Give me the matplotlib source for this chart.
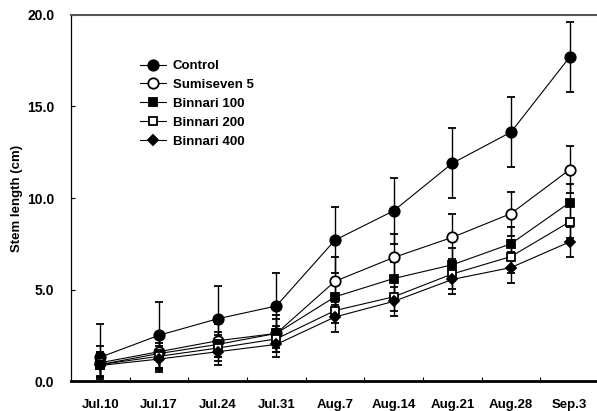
import matplotlib
matplotlib.use('Agg')
from matplotlib import pyplot as plt

dates = ['Jul.10', 'Jul.17', 'Jul.24', 'Jul.31', 'Aug.7', 'Aug.14', 'Aug.21', 'Aug.28', 'Sep.3']

control = [1.3, 2.5, 3.4, 4.1, 7.7, 9.3, 11.9, 13.6, 17.7]
control_err = [1.8, 1.8, 1.8, 1.8, 1.8, 1.8, 1.9, 1.9, 1.9]
sumiseven = [1.0, 1.6, 2.2, 2.6, 5.45, 6.75, 7.85, 9.15, 11.55]
sumiseven_err = [0.9, 1.0, 0.9, 1.0, 1.3, 1.3, 1.3, 1.2, 1.3]
binnari100 = [0.9, 1.5, 2.0, 2.6, 4.6, 5.6, 6.35, 7.5, 9.75]
binnari100_err = [0.7, 0.8, 0.7, 0.8, 0.8, 0.9, 0.9, 0.9, 1.0]
binnari200 = [0.9, 1.35, 1.8, 2.3, 3.85, 4.6, 5.85, 6.8, 8.7]
binnari200_err = [0.7, 0.7, 0.7, 0.7, 0.7, 0.8, 0.8, 0.9, 0.9]
binnari400 = [0.85, 1.2, 1.6, 2.0, 3.5, 4.35, 5.55, 6.2, 7.6]
binnari400_err = [0.6, 0.7, 0.7, 0.7, 0.8, 0.8, 0.8, 0.85, 0.8]

series = [
    ('Control', control, control_err, 'o', 'black', 7.5),
    ('Sumiseven 5', sumiseven, sumiseven_err, 'o', 'white', 7.5),
    ('Binnari 100', binnari100, binnari100_err, 's', 'black', 6),
    ('Binnari 200', binnari200, binnari200_err, 's', 'white', 6),
    ('Binnari 400', binnari400, binnari400_err, 'D', 'black', 5),
]

plt.rcParams['font.family'] = ['Liberation Sans', 'DejaVu Sans']
plt.rcParams['font.weight'] = 'bold'

fig = plt.figure(figsize=(5.97, 4.11), dpi=100)
ax = fig.add_axes([71 / 597, 1 - 381 / 411, 528 / 597, 366 / 411])

x = list(range(len(dates)))
lines = []
for name, vals, errs, mk, fc, ms in series:
    eb = ax.errorbar(x, vals, yerr=errs, color='black', lw=0.8, elinewidth=1.0,
                     capsize=3, capthick=1.0, marker=mk, markersize=ms,
                     markerfacecolor=fc, markeredgecolor='black', markeredgewidth=1.3)
    lines.append(eb[0])

ax.set_xlim(-0.5, len(dates) - 0.5)
ax.set_ylim(0, 20)
ax.set_yticks([0, 5, 10, 15, 20])
ax.set_yticklabels(['%.1f' % v for v in [0, 5, 10, 15, 20]], fontsize=10, fontweight='bold')
ax.tick_params(axis='y', direction='in', length=3, width=0.8, pad=12)

ax.set_xticks(x)
ax.set_xticklabels(dates, fontsize=9.5, fontweight='bold')
ax.tick_params(axis='x', which='major', length=0, pad=13)
ax.set_xticks([i + 0.5 for i in range(len(dates) - 1)], minor=True)
ax.tick_params(axis='x', which='minor', direction='in', length=3, width=0.8)

ax.set_ylabel('Stem length (cm)', fontsize=9.5, fontweight='bold', labelpad=3)

ax.spines['bottom'].set_linewidth(2)
ax.spines['left'].set_linewidth(0.9)
ax.spines['top'].set_color('#555555')
ax.spines['top'].set_linewidth(1.5)
ax.spines['right'].set_visible(False)

leg = ax.legend(lines, [s[0] for s in series], loc='upper left',
                bbox_to_anchor=(0.13, 0.877), frameon=False,
                fontsize=9.5, handlelength=2.0, handletextpad=0.5,
                labelspacing=0.5, borderpad=0, borderaxespad=0)
for t in leg.get_texts():
    t.set_fontweight('bold')

fig.savefig('out.png', dpi=100)
